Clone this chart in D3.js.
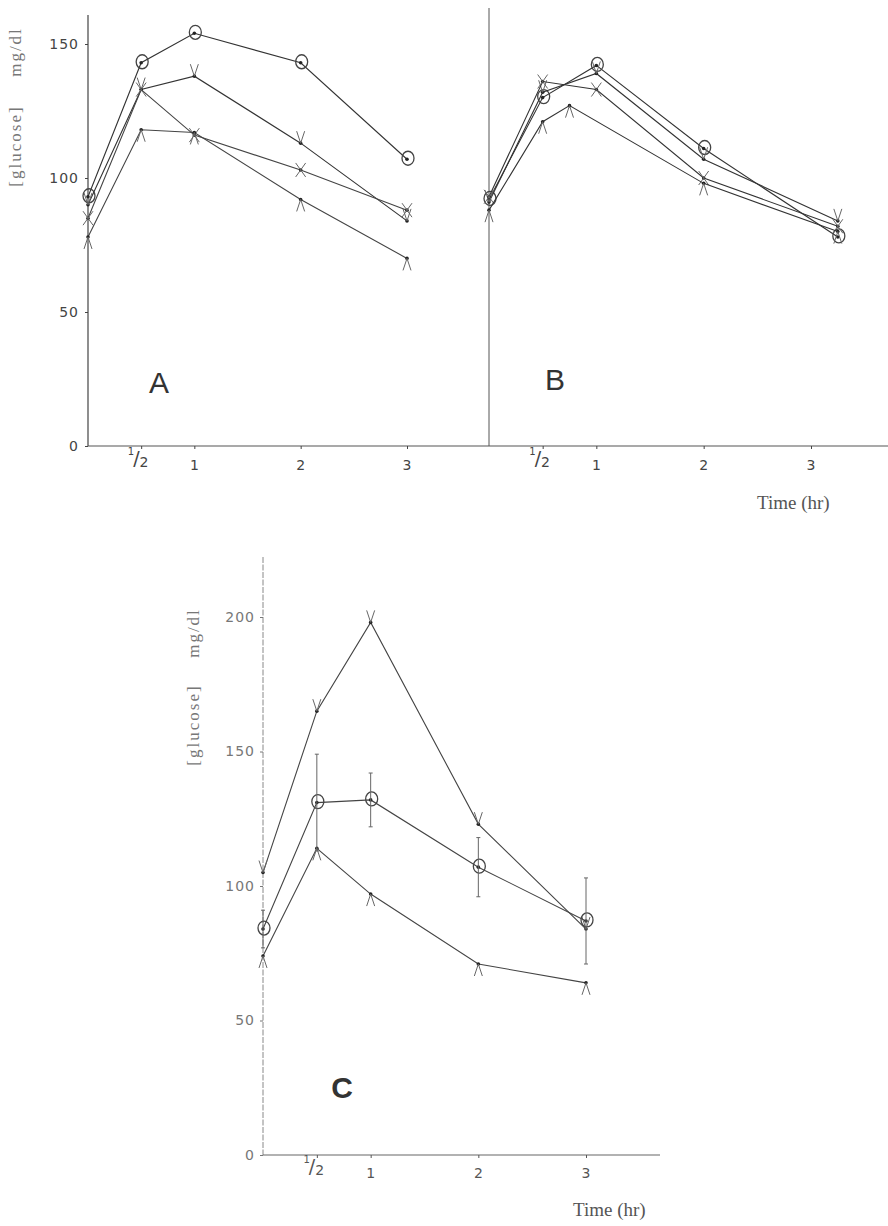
<!DOCTYPE html>
<html>
<head>
<meta charset="utf-8">
<script src="https://cdn.jsdelivr.net/npm/d3@7"></script>
<style>
body{margin:0;background:#fff;}
svg{display:block;}
</style>
</head>
<body>
<script>
// panel A
var timesA = [0, 0.5, 1, 2, 3];
var aCircle = [93, 143, 154, 143, 107];
var aV = [90, 133, 138, 113, 84];
var aX = [85, 133, 116, 103, 88];
var aCaret = [78, 118, 117, 92, 70];

// panel B
var timesB = [0, 0.5, 1, 2, 3.25];
var timesBCaret = [0, 0.5, 0.75, 2, 3.25];
var bCircle = [92, 130, 142, 111, 78];
var bV = [91, 132, 139, 107, 84];
var bX = [93, 136, 133, 100, 82];
var bCaret = [88, 121, 127, 98, 80];

// panel C
var timesC = [0, 0.5, 1, 2, 3];
var cV = [105, 165, 198, 123, 84];
var cCircle = [84, 131, 132, 107, 87];
var cCircleErr = [7, 18, 10, 11, 16];
var cCaret = [74, 114, 97, 71, 64];

var yTicksAB = [0, 50, 100, 150];
var yTicksC = [0, 50, 100, 150, 200];
var xTicks = [0.5, 1, 2, 3];

var svg = d3.select("body").append("svg")
            .attr("width", 888)
            .attr("height", 1226);

var yA = d3.scaleLinear().domain([0,150]).range([446,44]);
var xA = d3.scaleLinear().domain([0,3]).range([88,407]);
var xB = d3.scaleLinear().domain([0,3]).range([489,811]);
var yC = d3.scaleLinear().domain([0,200]).range([1155,617]);
var xC = d3.scaleLinear().domain([0,3]).range([263,586]);

var styleAxis = function(g, col){
  g.select(".domain").remove();
  g.selectAll(".tick line").attr("stroke", col);
  g.selectAll(".tick text")
   .attr("font-family", "DejaVu Sans")
   .attr("font-size", 14)
   .attr("letter-spacing", 1)
   .attr("fill", col);
}

var fixHalf = function(g){
  g.selectAll(".tick").filter(function(d){ return d === 0.5; })
   .select("text")
   .text(null)
   .each(function(){
     var t = d3.select(this);
     t.append("tspan").attr("font-size", 10).attr("dy", "-0.5em").attr("dx", -3).text("1");
     t.append("tspan").attr("font-size", 19).attr("dy", "0.55em").attr("dx", -2).text("/");
     t.append("tspan").attr("font-size", 14).attr("dy", "0.1em").attr("dx", -1).text("2");
   });
}

var xFormat = function(d){ return d; };

// axis lines
svg.append("line").attr("x1", xA(0)).attr("x2", xA(0)).attr("y1", 15).attr("y2", yA(0))
   .attr("stroke", "#444").attr("stroke-width", 1.2);
svg.append("line").attr("x1", xB(0)).attr("x2", xB(0)).attr("y1", 8).attr("y2", yA(0))
   .attr("stroke", "#555").attr("stroke-width", 1);
svg.append("line").attr("x1", xA(0)).attr("x2", 888).attr("y1", yA(0)).attr("y2", yA(0))
   .attr("stroke", "#555").attr("stroke-width", 1.2);
svg.append("line").attr("x1", xC(0)).attr("x2", xC(0)).attr("y1", 557).attr("y2", yC(0))
   .attr("stroke", "#888").attr("stroke-width", 1).attr("stroke-dasharray", "6,1.5");
svg.append("line").attr("x1", xC(0)).attr("x2", 660).attr("y1", yC(0)).attr("y2", yC(0))
   .attr("stroke", "#666").attr("stroke-width", 1.2);

// ticks and labels
svg.append("g").attr("transform", "translate(" + xA(0) + ",0)")
   .call(d3.axisLeft(yA).tickValues(yTicksAB).tickSize(3).tickPadding(6))
   .call(styleAxis, "#444");
svg.append("g").attr("transform", "translate(0," + yA(0) + ")")
   .call(d3.axisBottom(xA).tickValues(xTicks).tickFormat(xFormat).tickSize(3).tickPadding(11))
   .call(styleAxis, "#444").call(fixHalf);
svg.append("g").attr("transform", "translate(0," + yA(0) + ")")
   .call(d3.axisBottom(xB).tickValues(xTicks).tickFormat(xFormat).tickSize(3).tickPadding(11))
   .call(styleAxis, "#444").call(fixHalf);
svg.append("g").attr("transform", "translate(" + xC(0) + ",0)")
   .call(d3.axisLeft(yC).tickValues(yTicksC).tickSize(3).tickPadding(5))
   .call(styleAxis, "#777");
svg.append("g").attr("transform", "translate(0," + yC(0) + ")")
   .call(d3.axisBottom(xC).tickValues(xTicks).tickFormat(xFormat).tickSize(3).tickPadding(10))
   .call(styleAxis, "#555").call(fixHalf);

// axis titles
var yTitle = function(x, yG, yM){
  svg.append("text").attr("transform", "translate(" + x + "," + yG + ") rotate(-90)")
     .attr("text-anchor", "middle").attr("font-family", "Liberation Serif")
     .attr("font-size", 17).attr("letter-spacing", 2).attr("fill", "#777")
     .text("[glucose]");
  svg.append("text").attr("transform", "translate(" + x + "," + yM + ") rotate(-90)")
     .attr("text-anchor", "middle").attr("font-family", "Liberation Serif")
     .attr("font-size", 17).attr("letter-spacing", 2).attr("fill", "#777")
     .text("mg/dl");
}
yTitle(21, 146, 52);
yTitle(199, 725, 633);

svg.append("text").attr("x", 757).attr("y", 509)
   .attr("font-family", "Liberation Serif").attr("font-size", 19).attr("fill", "#555")
   .text("Time (hr)");
svg.append("text").attr("x", 573).attr("y", 1216)
   .attr("font-family", "Liberation Serif").attr("font-size", 19).attr("fill", "#555")
   .text("Time (hr)");

// panel letters
var letters = [["A", 159, 393, "normal"], ["B", 555, 390, "normal"], ["C", 342, 1098, "bold"]];
svg.selectAll(".letter").data(letters).enter()
   .append("text")
   .attr("x", function(d){ return d[1]; })
   .attr("y", function(d){ return d[2]; })
   .attr("text-anchor", "middle")
   .attr("font-family", "Liberation Sans")
   .attr("font-size", 30)
   .attr("font-weight", function(d){ return d[3]; })
   .attr("fill", "#333")
   .text(function(d){ return d[0]; });

// series
var drawSeries = function(xs, ys, times, values, marker, col){
  var pts = times.map(function(t, i){ return {t: t, v: values[i]}; });
  var line = d3.line().x(function(d){ return xs(d.t); }).y(function(d){ return ys(d.v); });

  svg.append("path").datum(pts)
     .attr("d", line)
     .attr("fill", "none")
     .attr("stroke", col)
     .attr("stroke-width", 1.1);

  svg.selectAll(null).data(pts).enter()
     .append("circle")
     .attr("cx", function(d){ return xs(d.t); })
     .attr("cy", function(d){ return ys(d.v); })
     .attr("r", 1.8)
     .attr("fill", "#222");

  if (marker === "o") {
    svg.selectAll(null).data(pts).enter()
       .append("ellipse")
       .attr("cx", function(d){ return xs(d.t) + 1; })
       .attr("cy", function(d){ return ys(d.v) - 1; })
       .attr("rx", 6).attr("ry", 7)
       .attr("fill", "none").attr("stroke", "#444").attr("stroke-width", 1.3);
  } else {
    svg.selectAll(null).data(pts).enter()
       .append("path")
       .attr("d", function(d){
         var x = xs(d.t), y = ys(d.v);
         if (marker === "v") return "M" + (x-4) + "," + (y-12) + "L" + x + "," + y + "L" + (x+4) + "," + (y-12);
         if (marker === "^") return "M" + (x-4) + "," + (y+12) + "L" + x + "," + y + "L" + (x+4) + "," + (y+12);
         return "M" + (x-5) + "," + (y-7) + "L" + (x+5) + "," + (y+7) + "M" + (x+5) + "," + (y-7) + "L" + (x-5) + "," + (y+7);
       })
       .attr("fill", "none").attr("stroke", "#666").attr("stroke-width", 1);
  }
}

drawSeries(xA, yA, timesA, aCircle, "o", "#333");
drawSeries(xA, yA, timesA, aV, "v", "#333");
drawSeries(xA, yA, timesA, aX, "x", "#444");
drawSeries(xA, yA, timesA, aCaret, "^", "#444");

drawSeries(xB, yA, timesB, bCircle, "o", "#333");
drawSeries(xB, yA, timesB, bV, "v", "#333");
drawSeries(xB, yA, timesB, bX, "x", "#333");
drawSeries(xB, yA, timesBCaret, bCaret, "^", "#333");

drawSeries(xC, yC, timesC, cV, "v", "#444");
drawSeries(xC, yC, timesC, cCircle, "o", "#444");
drawSeries(xC, yC, timesC, cCaret, "^", "#444");

// error bars on panel C circles
var errPts = timesC.map(function(t, i){ return {t: t, v: cCircle[i], e: cCircleErr[i]}; });
svg.selectAll(".err").data(errPts).enter()
   .append("path")
   .attr("d", function(d){
     var x = xC(d.t), y1 = yC(d.v + d.e), y2 = yC(d.v - d.e);
     return "M" + x + "," + y1 + "L" + x + "," + y2 +
            "M" + (x-2) + "," + y1 + "L" + (x+2) + "," + y1 +
            "M" + (x-2) + "," + y2 + "L" + (x+2) + "," + y2;
   })
   .attr("fill", "none").attr("stroke", "#666").attr("stroke-width", 1);
</script>
</body>
</html>
